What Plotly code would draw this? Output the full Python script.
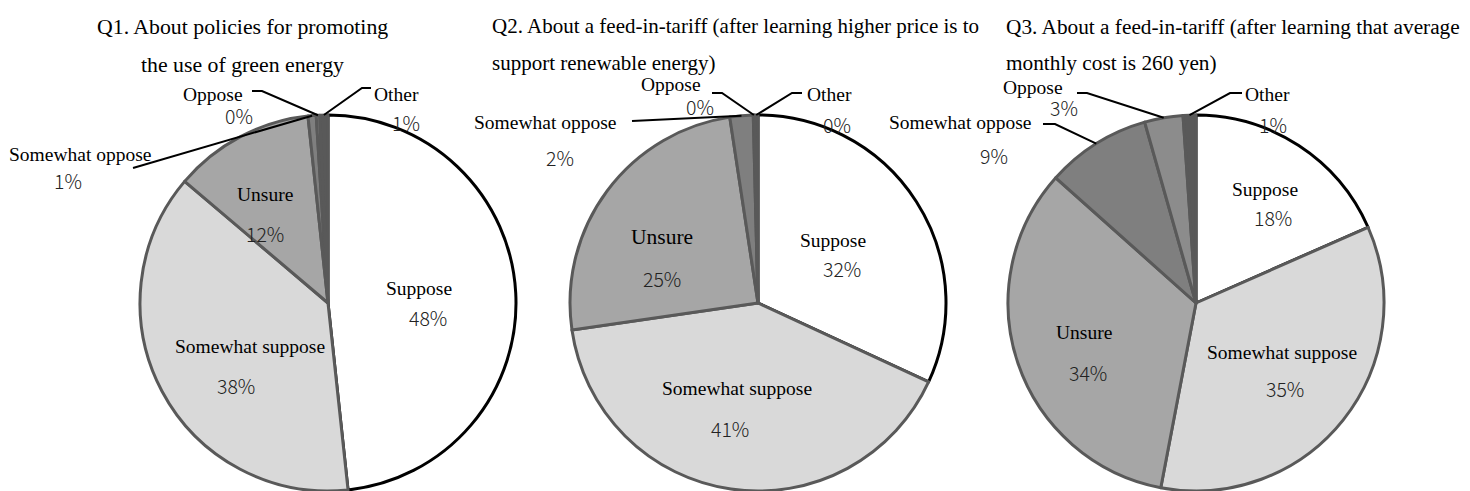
import math
import plotly.graph_objects as go

# ---------------- data ----------------
categories = ["Suppose", "Somewhat suppose", "Unsure", "Somewhat oppose", "Oppose", "Other"]
q1_values = [48.3, 37.9, 12.1, 0.7, 0.3, 0.7]
q2_values = [31.9, 40.8, 24.9, 2.0, 0.1, 0.3]
q3_values = [18.4, 34.6, 33.6, 9.0, 3.3, 1.1]
titles = [
    ["Q1. About policies for promoting", "the use of green energy"],
    ["Q2. About a feed-in-tariff (after learning higher price is to", "support renewable energy)"],
    ["Q3. About a feed-in-tariff (after learning that average", "monthly cost is 260 yen)"],
]
series = [q1_values, q2_values, q3_values]

# ---------------- style / layout ----------------
W, H = 1470, 491
colors = ["#ffffff", "#d9d9d9", "#a6a6a6", "#7f7f7f", "#8c8c8c", "#595959"]
line_colors = ["#000000", "#595959", "#595959", "#595959", "#595959", "#595959"]
centers = [(328, 303), (758, 303), (1196, 303)]
R = 188
NAME_FONT = "Liberation Serif"
PCT_FONT = "Noto Sans CJK JP"
NAME_SIZE = 19.5
PCT_SIZE = 19.5

title_layout = [
    dict(x=242, xanchor="center", y=[27, 65], size=21.8),
    dict(x=490, xanchor="left", y=[26, 63], size=21.0),
    dict(x=1004, xanchor="left", y=[27, 63], size=21.3),
]

# label placement (pixels): name=(x, y, xanchor), pct=(x, y), line=text-side points
label_layout = [
    {
        "Suppose": dict(name=(419, 288, "center"), pct=(428, 317)),
        "Somewhat suppose": dict(name=(250, 346, "center"), pct=(236, 385)),
        "Unsure": dict(name=(265, 194, "center"), pct=(265, 233)),
        "Somewhat oppose": dict(name=(153, 154, "right"), pct=(68, 181), line=[(133, 168)]),
        "Oppose": dict(name=(245, 95, "right"), pct=(239, 116), line=[(252, 91), (262, 91)]),
        "Other": dict(name=(372, 95, "left"), pct=(406, 123), line=[(371, 88), (362, 88)]),
    },
    {
        "Suppose": dict(name=(833, 240, "center"), pct=(842, 268)),
        "Somewhat suppose": dict(name=(737, 388, "center"), pct=(730, 428)),
        "Unsure": dict(name=(662, 237, "center"), pct=(662, 278), size=21.5),
        "Somewhat oppose": dict(name=(618, 123, "right"), pct=(560, 157), line=[(632, 121)]),
        "Oppose": dict(name=(703, 85, "right"), pct=(700, 106), line=[(712, 93), (722, 93)]),
        "Other": dict(name=(805, 95, "left"), pct=(837, 124), line=[(802, 93), (792, 93)]),
    },
    {
        "Suppose": dict(name=(1265, 189, "center"), pct=(1273, 217)),
        "Somewhat suppose": dict(name=(1282, 352, "center"), pct=(1285, 388)),
        "Unsure": dict(name=(1084, 332, "center"), pct=(1088, 372)),
        "Somewhat oppose": dict(name=(1033, 123, "right"), pct=(994, 155), line=[(1043, 124), (1055, 124)]),
        "Oppose": dict(name=(1065, 87, "right"), pct=(1064, 108), line=[(1077, 93), (1087, 93)]),
        "Other": dict(name=(1243, 95, "left"), pct=(1273, 124), line=[(1242, 93), (1230, 93)]),
    },
]


def px(x):
    return x / W


def py(y):
    return 1 - y / H


fig = go.Figure()
annotations = []
shapes = []

for i, vals in enumerate(series):
    cx, cy = centers[i]
    fig.add_trace(go.Pie(
        labels=categories,
        values=vals,
        sort=False,
        direction="clockwise",
        rotation=0,
        textinfo="none",
        hoverinfo="label+percent",
        showlegend=False,
        marker=dict(colors=colors, line=dict(color=line_colors, width=3)),
        domain=dict(x=[px(cx - R), px(cx + R)], y=[max(0, py(cy + R)), py(cy - R)]),
    ))

    # titles
    tl = title_layout[i]
    for j, line in enumerate(titles[i]):
        annotations.append(dict(
            text=line, x=px(tl["x"]), y=py(tl["y"][j]), xref="paper", yref="paper",
            xanchor=tl["xanchor"], yanchor="middle", showarrow=False,
            font=dict(family=NAME_FONT, size=tl["size"], color="#000000"),
        ))

    total = sum(vals)
    cum = 0.0
    for cat, v in zip(categories, vals):
        frac = v / total
        mid = (cum + frac / 2) * 2 * math.pi
        cum += frac
        lay = label_layout[i][cat]
        nx, ny, nanchor = lay["name"]
        annotations.append(dict(
            text=cat, x=px(nx), y=py(ny), xref="paper", yref="paper",
            xanchor=nanchor, yanchor="middle", showarrow=False,
            font=dict(family=NAME_FONT, size=lay.get("size", NAME_SIZE), color="#000000"),
        ))
        pxx, pyy = lay["pct"]
        annotations.append(dict(
            text=f"{round(v / total * 100)}%", x=px(pxx), y=py(pyy), xref="paper", yref="paper",
            xanchor="center", yanchor="middle", showarrow=False,
            font=dict(family=PCT_FONT, size=PCT_SIZE, color="#222222", weight=300),
        ))
        if "line" in lay:
            ex = cx + R * math.sin(mid)
            ey = cy - R * math.cos(mid)
            pts = list(lay["line"]) + [(ex, ey)]
            path = "M " + " L ".join(f"{px(a):.5f},{py(b):.5f}" for a, b in pts)
            shapes.append(dict(type="path", path=path, xref="paper", yref="paper",
                               line=dict(color="#000000", width=2)))

fig.update_layout(
    width=W, height=H,
    margin=dict(l=0, r=0, t=0, b=0),
    paper_bgcolor="#ffffff", plot_bgcolor="#ffffff",
    annotations=annotations, shapes=shapes,
)

fig.write_html(
    "out.html",
    config={"displayModeBar": False},
    post_script="document.body.style.margin='0';document.body.style.overflow='hidden';",
)
